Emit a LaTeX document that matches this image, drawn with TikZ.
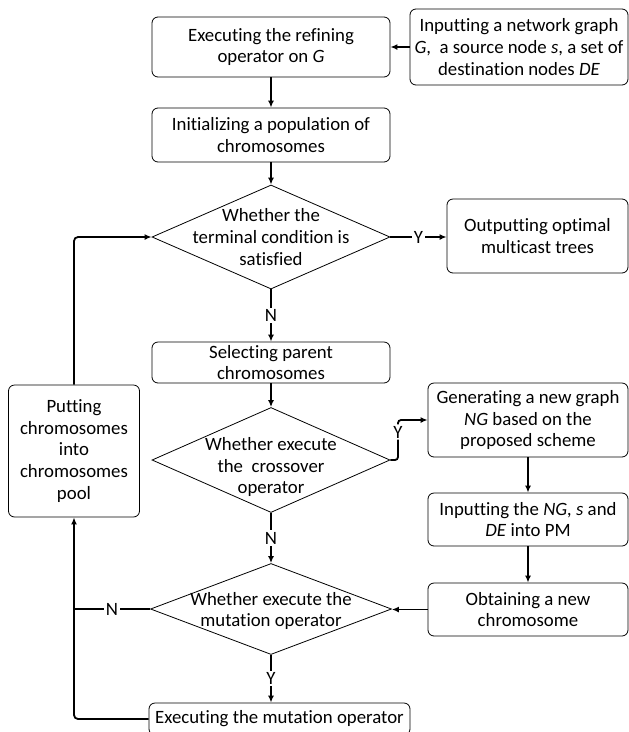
\documentclass[tikz,border=0pt]{standalone}
\usepackage{fontspec}
\setmainfont{Carlito}[Ligatures=NoCommon]
\usetikzlibrary{shapes.geometric,arrows.meta}

\begin{document}
\begin{tikzpicture}[x=1pt,y=-1pt,font=\fontsize{18.8}{21.8}\selectfont]
    \pgfmathsetmacro{\mainX}{271}
    \pgfmathsetmacro{\sideX}{528}
    \pgfmathsetmacro{\loopX}{74}
    \tikzset{
        box/.style={draw,line width=0.8pt,rounded corners=6pt,align=center,inner sep=0pt},
        decision/.style={draw,diamond,line width=0.8pt,inner sep=0pt},
        flow/.style={line width=1.8pt,-{Latex[length=7pt,width=6pt]}},
        answer/.style={fill=white,inner sep=1.5pt}
    }
    \useasboundingbox (0,0) rectangle (629,732);

    % Eingabe und Vorbereitung
    \node[box,minimum width=238pt,minimum height=60pt] (refine) at (\mainX,47) {Executing the refining\\operator on \textit{G}};
    \node[box,minimum width=218pt,minimum height=76pt] (input) at (519,47) {Inputting a network graph\\\textit{G},\ \ a source node \textit{s}, a set of\\destination nodes \textit{DE}};
    \node[box,minimum width=238pt,minimum height=54pt] (init) at (\mainX,135) {Initializing a population of\\chromosomes};

    % Abbruchbedingung
    \node[decision,minimum width=238pt,minimum height=104pt] (term) at (\mainX,237) {};
    \node[align=center] (termtext) at (\mainX,237) {Whether the\\terminal condition is\\satisfied};
    \node[box,minimum width=181pt,minimum height=74pt] (output) at (537.5,236) {Outputting optimal\\multicast trees};
    \node[box,minimum width=238pt,minimum height=41pt] (select) at (\mainX,362.5) {Selecting parent\\chromosomes};

    % Kreuzung
    \node[decision,minimum width=238pt,minimum height=105pt] (cross) at (\mainX,460) {};
    \node[align=center] (crosstext) at (\mainX,467) {Whether execute\\the\ \ crossover\\operator};
    \node[box,minimum width=200pt,minimum height=74pt] (newgraph) at (\sideX,420) {Generating a new graph\\\textit{NG} based on the\\proposed scheme};
    \node[box,minimum width=200pt,minimum height=53pt] (inputpm) at (\sideX,519.5) {Inputting the \textit{NG, s} and\\\textit{DE} into PM};
    \node[box,minimum width=200pt,minimum height=53pt] (obtain) at (\sideX,609.5) {Obtaining a new\\chromosome};

    % Mutation
    \node[decision,minimum width=241pt,minimum height=91pt] (mutate) at (\mainX,609) {};
    \node[align=center] (mutatetext) at (\mainX,611) {Whether execute the\\mutation operator};
    \node[box,minimum width=261pt,minimum height=32pt] (mutbox) at (279.5,719) {Executing the mutation operator};

    % Pool
    \node[box,minimum width=131pt,minimum height=132pt] (pool) at (\loopX,451) {Putting\\chromosomes\\into\\chromosomes\\pool};

    % Hauptpfad
    \draw[flow] (input) -- (refine);
    \draw[flow] (refine) -- (init);
    \draw[flow] (init) -- (term);
    \draw[flow] (term.east) -- node[answer] {Y} (term.east -| output.west);
    \draw[flow] (term) -- node[answer] {N} (select);
    \draw[flow] (select) -- (cross);

    % Ja-Zweig der Kreuzung
    \coordinate (crossturn) at (398,460);
    \draw[flow,rounded corners=3pt] (cross.east) -- (crossturn) -- node[answer,pos=0.7] {Y} (crossturn |- newgraph.west) -- (newgraph.west);
    \draw[flow] (newgraph) -- (inputpm);
    \draw[flow] (inputpm) -- (obtain);
    \draw[flow] (obtain.west) -- (obtain.west -| mutate.east);
    \draw[flow] (cross) -- node[answer] {N} (mutate);
    \draw[flow] (mutate.south) -- node[answer] {Y} (mutate.south |- mutbox.north);

    % Rueckfuehrung
    \coordinate (njoin) at (\loopX,609);
    \draw[line width=1.8pt] (mutate.west) -- node[answer] {N} (njoin);
    \draw[flow,rounded corners=4pt] (mutbox.west) -| (pool.south);
    \draw[flow,rounded corners=4pt] (pool.north) |- (term.west);
\end{tikzpicture}
\end{document}
